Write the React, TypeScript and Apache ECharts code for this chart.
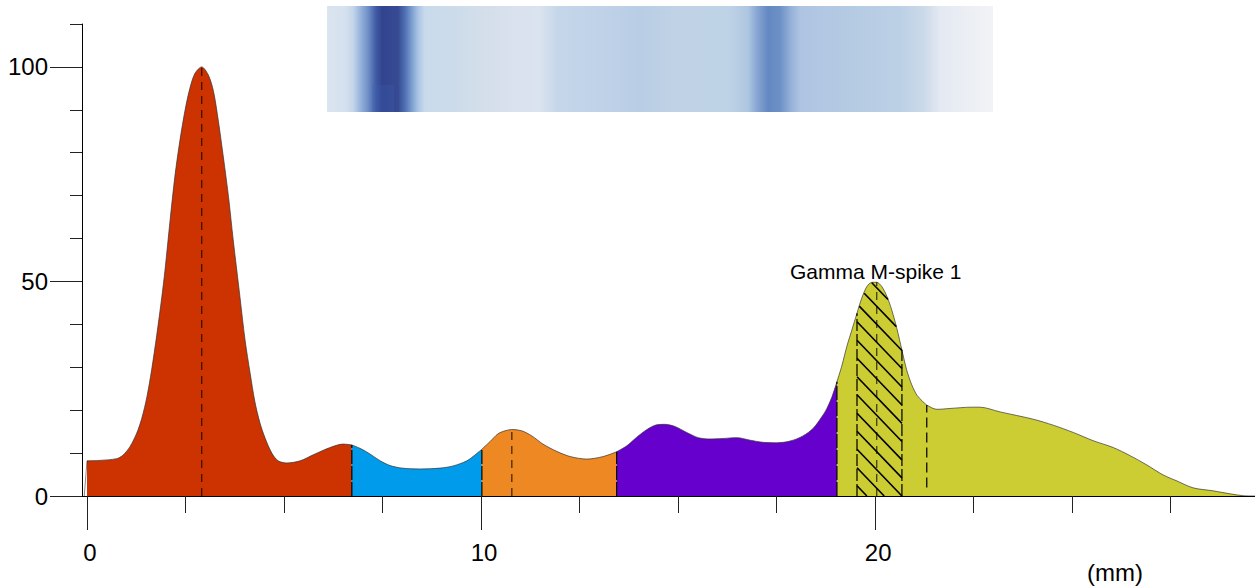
import React, { useEffect, useRef } from "react";
import * as echarts from "echarts";

const FONT = "'Liberation Sans', Arial, sans-serif";

const albuminX = [0, 0.33, 0.75, 0.91, 1.09, 1.26, 1.39, 1.52, 1.64, 1.77, 1.9, 1.98, 2.11, 2.23, 2.36, 2.49, 2.61, 2.74, 2.91, 3.08, 3.21, 3.33, 3.46, 3.59, 3.71, 3.8, 3.88, 4.01, 4.14, 4.26, 4.39, 4.52, 4.69, 4.85, 5.07, 5.41, 5.74, 6.17, 6.5, 6.72];
const albuminY = [8.2, 8.3, 8.7, 9.5, 11.5, 14.6, 18.1, 23.1, 29.4, 37.5, 46.5, 52.7, 64.4, 74.5, 83, 90, 95, 98.5, 100, 98.1, 94.3, 87.6, 79, 69.8, 59.7, 52.7, 46.5, 36.4, 28.6, 22, 17, 13.5, 10, 8.2, 7.7, 8.2, 9.6, 11.3, 12.1, 11.9];
const alpha1X = [6.72, 6.93, 7.18, 7.44, 7.69, 7.99, 8.45, 8.96, 9.29, 9.64, 9.85, 10.02];
const alpha1Y = [11.9, 11.1, 9.8, 8.2, 7.1, 6.5, 6.3, 6.5, 7, 8.2, 9.6, 10.9];
const alpha2X = [10.02, 10.23, 10.43, 10.61, 10.78, 11.03, 11.29, 11.57, 11.92, 12.26, 12.68, 13.1, 13.44];
const alpha2Y = [10.9, 12.7, 14.5, 15.2, 15.5, 15.2, 14, 12.1, 10.4, 9.2, 8.6, 9.2, 10.3];
const betaX = [13.44, 13.7, 13.95, 14.21, 14.46, 14.67, 14.92, 15.22, 15.51, 15.81, 16.14, 16.49, 16.83, 17.16, 17.5, 17.84, 18.17, 18.43, 18.65, 18.77, 18.9, 19.03];
const betaY = [10.3, 11.7, 13.7, 15.5, 16.6, 16.7, 16.2, 14.8, 13.6, 13.3, 13.4, 13.6, 13, 12.5, 12.4, 12.8, 14, 15.8, 18.5, 20.3, 23, 26.6];
const gammaX = [19.03, 19.16, 19.28, 19.41, 19.54, 19.66, 19.79, 19.92, 20.04, 20.17, 20.3, 20.42, 20.55, 20.68, 20.8, 20.93, 21.06, 21.19, 21.31, 21.57, 21.9, 22.45, 22.66, 23.17, 24.01, 24.52, 25.03, 25.53, 26.04, 26.47, 26.9, 27.31, 27.66, 28.07, 28.58, 29.01, 29.34, 29.64];
const gammaY = [26.6, 30.5, 34.8, 38.7, 42.6, 46.1, 48.8, 49.8, 49.8, 48.8, 46.5, 43.4, 39.1, 34, 29.4, 25.9, 23.5, 22.2, 21.2, 20.2, 20.4, 20.7, 20.7, 19.6, 17.9, 16.5, 14.8, 12.9, 11.3, 9.4, 7.2, 4.9, 3.5, 1.9, 1.2, 0.5, 0.07, 0];

const fractionColors = ["#cc3300", "#009ceb", "#ee8822", "#6600cc", "#cccc33"];

const boundaryX = [6.72, 10.02, 13.44, 19.03];
const boundaryTop = [11.9, 10.9, 10.3, 26.6];
const peakX = [2.91, 10.78, 20.04];
const peakTop = [100, 15.5, 49.8];
const spikeEdgeX = [19.54, 20.68];
const spikeEdgeTop = [42.6, 34];
const tailMarkX = [21.31];
const tailMarkBottom = [2];
const tailMarkTop = [21.2];

const hatchLeftValues = [2.4, 6.6, 10.9, 15.1, 19.3, 23.6, 27.8, 32.1, 36.3, 40.6, 44.8, 49, 53.3];
const hatchSlope = 9.55;

const xMinorTicks = [0, 2.5, 5, 7.5, 10, 12.5, 15, 17.5, 20, 22.5, 25, 27.5];
const xMajorTicks = [0, 10, 20];
const yMinorTicks = [0, 10, 20, 30, 40, 50, 60, 70, 80, 90, 100, 110];
const yMajorTicks = [0, 50, 100];

const stripStops: [number, string][] = [
  [327, "#dbe5f0"], [345, "#d5e1ee"], [353, "#c5d6ea"], [360, "#9ab6dd"], [368, "#6f8fc8"], [376, "#3f5aa4"],
  [382, "#33448f"], [398, "#364a92"], [405, "#4f70b2"], [412, "#7e9fd0"], [418, "#a9c3e3"], [425, "#c9daec"],
  [450, "#cbdbea"], [480, "#d3deea"], [510, "#d8e1ed"], [540, "#dae3ef"], [558, "#c5d6ea"],
  [600, "#bfd2e8"], [640, "#b9cde4"], [680, "#c0d3e6"], [730, "#bed2e6"], [748, "#aec6e0"],
  [757, "#88a6d4"], [768, "#6488c2"], [780, "#6c90c6"], [790, "#93aed8"], [800, "#aec4e2"],
  [850, "#b5cbe3"], [900, "#bcd0e5"], [925, "#ccdaea"], [940, "#e4e9f2"], [993, "#f2f3f6"],
];

const zip = (xs: number[], ys: number[]) => xs.map((x, i) => [x, ys[i]]);

function curveAt(x: number) {
  for (let i = 1; i < gammaX.length; i++) {
    if (x <= gammaX[i]) {
      const t = (x - gammaX[i - 1]) / (gammaX[i] - gammaX[i - 1]);
      return gammaY[i - 1] + t * (gammaY[i] - gammaY[i - 1]);
    }
  }
  return 0;
}

function hatchSegment(left: number) {
  const [x0, x1] = spikeEdgeX;
  const line = (x: number) => left - hatchSlope * (x - x0);
  let a: number[] | null = null;
  let b: number[] | null = null;
  for (let k = 0; k <= 200; k++) {
    const x = x0 + ((x1 - x0) * k) / 200;
    const y = line(x);
    if (y >= 0 && y <= curveAt(x)) {
      if (!a) a = [x, y];
      b = [x, y];
    }
  }
  return a && b ? [a, b] : null;
}

const fill = (pts: number[][], color: string) => ({
  type: "line",
  data: pts,
  smooth: 0.3,
  symbol: "none",
  silent: true,
  z: 2,
  lineStyle: { color: "#333", width: 0.7 },
  areaStyle: { color, opacity: 1 },
});

const rule = (pts: number[][], dash: number[], width = 1.2, opacity = 0.85) => ({
  type: "line",
  data: pts,
  symbol: "none",
  silent: true,
  z: 3,
  lineStyle: { color: "#000", width, type: dash, opacity },
});

export default function App() {
  const ref = useRef<HTMLDivElement>(null);
  useEffect(() => {
    const chart = echarts.init(ref.current!, undefined, { renderer: "svg" });
    const xRange = { min: -0.127, max: 29.64 };
    const yRange = { min: 0, max: 110 };
    const hatch = hatchLeftValues.map(hatchSegment).filter(Boolean) as number[][][];
    chart.setOption({
      animation: false,
      textStyle: { fontFamily: FONT },
      grid: { left: 82, right: 0, top: 24, bottom: 90 },
      xAxis: [
        {
          type: "value", position: "bottom", ...xRange, splitLine: { show: false },
          axisLine: { show: true, onZero: false, lineStyle: { color: "#000", width: 1 } },
          axisTick: { show: true, customValues: xMinorTicks, length: 17, lineStyle: { color: "#222", width: 1 } },
          axisLabel: { show: false },
        },
        {
          type: "value", position: "bottom", ...xRange, splitLine: { show: false },
          axisLine: { show: false, onZero: false },
          axisTick: { show: true, customValues: xMajorTicks, length: 34, lineStyle: { color: "#222", width: 1 } },
          axisLabel: {
            show: true, customValues: xMajorTicks, margin: 44, color: "#000",
            fontSize: 24, fontFamily: FONT, padding: [0, 0, 0, 6],
            showMinLabel: true, showMaxLabel: true,
          },
        },
      ],
      yAxis: [
        {
          type: "value", position: "left", ...yRange, splitLine: { show: false },
          axisLine: { show: true, onZero: false, lineStyle: { color: "#000", width: 1 } },
          axisTick: { show: true, customValues: yMinorTicks, length: 12, lineStyle: { color: "#222", width: 1 } },
          axisLabel: { show: false },
        },
        {
          type: "value", position: "left", ...yRange, splitLine: { show: false },
          axisLine: { show: false, onZero: false },
          axisTick: { show: true, customValues: yMajorTicks, length: 32, lineStyle: { color: "#222", width: 1 } },
          axisLabel: {
            show: true, customValues: yMajorTicks, margin: 34, color: "#000",
            fontSize: 24, fontFamily: FONT, showMinLabel: true, showMaxLabel: true,
          },
        },
      ],
      series: [
        fill(zip(albuminX, albuminY), fractionColors[0]),
        fill(zip(alpha1X, alpha1Y), fractionColors[1]),
        fill(zip(alpha2X, alpha2Y), fractionColors[2]),
        fill(zip(betaX, betaY), fractionColors[3]),
        fill(zip(gammaX, gammaY), fractionColors[4]),
        rule([[-0.07, 0], [albuminX[0], albuminY[0]]], [100, 0], 0.8, 0.6),
        ...boundaryX.map((x, i) => rule([[x, 0], [x, boundaryTop[i]]], [14, 2], 1.3, 0.95)),
        ...peakX.map((x, i) => rule([[x, 0], [x, peakTop[i]]], [8, 6], 1.4, 0.65)),
        ...spikeEdgeX.map((x, i) => rule([[x, 0], [x, spikeEdgeTop[i]]], [12, 3], 1.3, 0.95)),
        ...tailMarkX.map((x, i) => rule([[x, tailMarkBottom[i]], [x, tailMarkTop[i]]], [10, 5], 1.3, 0.95)),
        ...hatch.map((seg) => rule(seg, [100, 0], 1.6, 1)),
      ],
      graphic: [
        {
          type: "rect",
          shape: { x: 327, y: 6, width: 666, height: 106 },
          style: {
            fill: new echarts.graphic.LinearGradient(
              0, 0, 1, 0,
              stripStops.map(([p, color]) => ({ offset: (p - 327) / 666, color })),
            ),
          },
          silent: true,
        },
        {
          type: "rect",
          shape: { x: 372, y: 85, width: 22, height: 27 },
          style: { fill: "#3f62b5", opacity: 0.22 },
          silent: true,
        },
        {
          type: "text", x: 790, y: 271,
          style: { text: "Gamma M-spike 1", fontSize: 21, fontFamily: FONT, fill: "#000", verticalAlign: "middle" },
          silent: true,
        },
        {
          type: "text", x: 1087, y: 572,
          style: { text: "(mm)", fontSize: 24, fontFamily: FONT, fill: "#000", verticalAlign: "middle" },
          silent: true,
        },
      ],
    });
    return () => chart.dispose();
  }, []);
  return <div ref={ref} style={{ position: "absolute", left: 0, top: 0, width: 1255, height: 586 }} />;
}
